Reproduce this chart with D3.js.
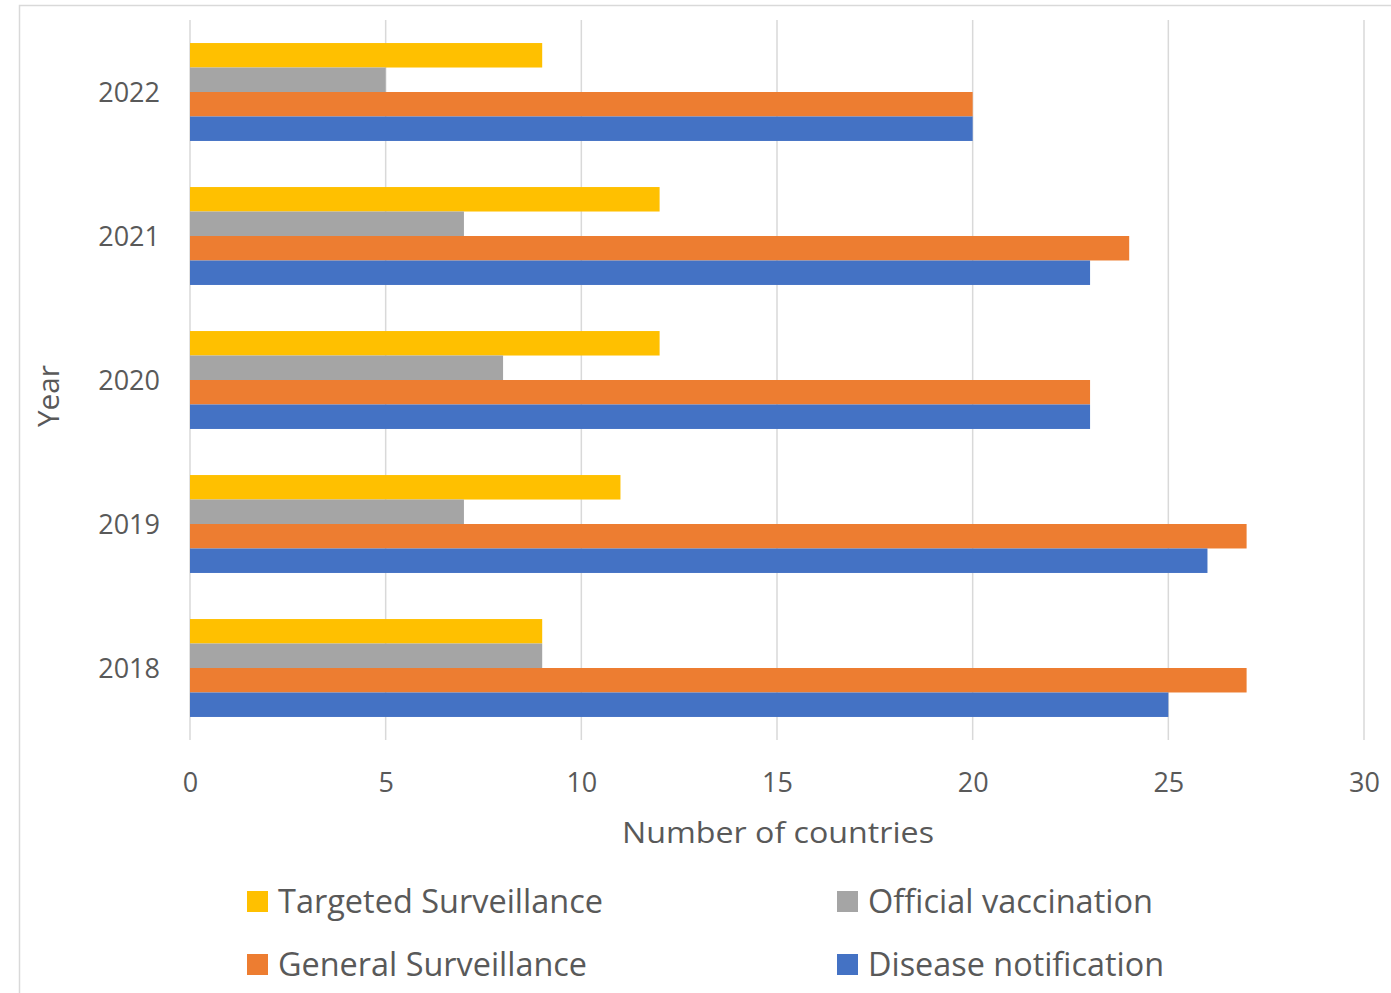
<!DOCTYPE html>
<html>
<head>
<meta charset="utf-8">
<script src="https://cdn.jsdelivr.net/npm/d3@7"></script>
<style>
  html, body { margin: 0; padding: 0; background: #fff; }
  svg { display: block; font-family: "Open Sans", "Noto Sans", sans-serif; }
</style>
</head>
<body>
<svg id="chart" width="1391" height="993"></svg>
<script>
// Countries reporting each surveillance measure, per year
const years = ["2022", "2021", "2020", "2019", "2018"];
const seriesNames = ["Targeted Surveillance", "Official vaccination", "General Surveillance", "Disease notification"];
const targeted = [9, 12, 12, 11, 9];
const official = [5, 7, 8, 7, 9];
const general = [20, 24, 23, 27, 27];
const notification = [20, 23, 23, 26, 25];
const xTicks = [0, 5, 10, 15, 20, 25, 30];

const seriesValues = [targeted, official, general, notification];
const colors = ["#FFC000", "#A5A5A5", "#ED7D31", "#4472C4"];
const textColor = "#595959";
const gridColor = "#D9D9D9";

const svg = d3.select("#chart");

// outer chart frame
svg.append("path")
  .attr("d", "M19.5,993 V5.5 H1391")
  .attr("fill", "none")
  .attr("stroke", gridColor)
  .attr("stroke-width", 1.5);

const plot = { left: 190, right: 1364, top: 20, bottom: 740 };

const x = d3.scaleLinear().domain([0, 30]).range([plot.left, plot.right]);
const y = d3.scaleBand().domain(years).range([plot.top, plot.bottom])
  .paddingInner(0.32).paddingOuter(0.16);
const ySub = d3.scaleBand().domain(seriesNames).range([0, y.bandwidth()]);

// vertical gridlines
svg.append("g").selectAll("line").data(xTicks).join("line")
  .attr("x1", d => x(d)).attr("x2", d => x(d))
  .attr("y1", plot.top).attr("y2", plot.bottom)
  .attr("stroke", gridColor).attr("stroke-width", 1.5);

// bars
const rows = years.map((yr, i) => ({ year: yr, values: seriesNames.map((s, k) => ({ series: s, value: seriesValues[k][i], color: colors[k] })) }));
const groups = svg.append("g").selectAll("g").data(rows).join("g")
  .attr("transform", d => `translate(0,${y(d.year)})`);
groups.selectAll("rect").data(d => d.values).join("rect")
  .attr("x", x(0))
  .attr("y", d => ySub(d.series))
  .attr("width", d => x(d.value) - x(0))
  .attr("height", ySub.bandwidth())
  .attr("fill", d => d.color);

// x axis tick labels
const xAxis = d3.axisBottom(x).tickValues(xTicks).tickSize(0).tickPadding(0);
const gx = svg.append("g").attr("transform", `translate(0,${plot.bottom})`).call(xAxis);
gx.select(".domain").remove();
gx.selectAll("text")
  .attr("dy", null).attr("y", 52)
  .attr("fill", textColor).attr("font-size", 27).attr("font-family", "Open Sans");

// y axis tick labels
const yAxis = d3.axisLeft(y).tickSize(0).tickPadding(30);
const gy = svg.append("g").attr("transform", `translate(${plot.left},0)`).call(yAxis);
gy.select(".domain").remove();
gy.selectAll("text")
  .attr("dy", "0.36em")
  .attr("fill", textColor).attr("font-size", 27).attr("font-family", "Open Sans");

// axis titles
svg.append("text")
  .attr("x", 778).attr("y", 843)
  .attr("text-anchor", "middle")
  .attr("fill", textColor).attr("font-size", 30)
  .attr("textLength", 312).attr("lengthAdjust", "spacingAndGlyphs")
  .text("Number of countries");

svg.append("text")
  .attr("transform", "translate(59,396) rotate(-90)")
  .attr("text-anchor", "middle")
  .attr("fill", textColor).attr("font-size", 30)
  .attr("textLength", 62).attr("lengthAdjust", "spacingAndGlyphs")
  .text("Year");

// legend
const legendItems = [
  { name: seriesNames[0], color: colors[0], x: 247, y: 901, w: 325 },
  { name: seriesNames[1], color: colors[1], x: 837, y: 901, w: 285 },
  { name: seriesNames[2], color: colors[2], x: 247, y: 964, w: 309 },
  { name: seriesNames[3], color: colors[3], x: 837, y: 964, w: 296 }
];
const leg = svg.append("g").selectAll("g").data(legendItems).join("g")
  .attr("transform", d => `translate(${d.x},${d.y})`);
leg.append("rect")
  .attr("x", 0).attr("y", -10).attr("width", 21).attr("height", 21)
  .attr("fill", d => d.color);
leg.append("text")
  .attr("x", 31).attr("y", 12)
  .attr("fill", textColor).attr("font-size", 32)
  .attr("textLength", d => d.w).attr("lengthAdjust", "spacingAndGlyphs")
  .text(d => d.name);
</script>
</body>
</html>
